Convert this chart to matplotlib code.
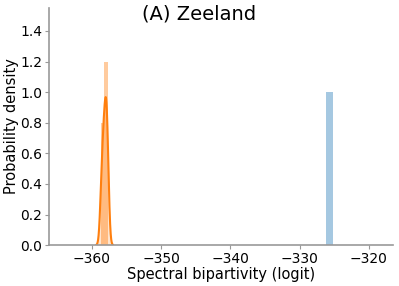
import numpy as np
import matplotlib
matplotlib.use("Agg")
import matplotlib.pyplot as plt

# observed value (blue) and null-model samples (orange), logit spectral bipartivity
observed = [-325.65]
null_samples = [-358.6, -358.3, -358.1, -357.9, -357.75]
null_bins = [-359.2, -358.7, -358.2, -357.7, -357.2]
title = "(A) Zeeland"
xticks = [-360, -350, -340, -330, -320]
yticks = [0.0, 0.2, 0.4, 0.6, 0.8, 1.0, 1.2, 1.4]

blue = "#1f77b4"
orange = "#ff7f0e"
grey = "#999999"


def kde(samples, grid):
    s = np.asarray(samples)
    bw = s.std(ddof=1) * len(s) ** (-1 / 5)
    z = (grid[:, None] - s[None, :]) / bw
    return np.exp(-0.5 * z ** 2).sum(axis=1) / (len(s) * bw * np.sqrt(2 * np.pi))


fig = plt.figure(figsize=(3.99, 2.86), dpi=100)
ax = fig.add_axes([0.123, 0.143, 0.862, 0.829])

ax.hist(observed, bins=1, range=(observed[0] - 0.5, observed[0] + 0.5),
        density=True, color=blue, alpha=0.4)
ax.hist(null_samples, bins=null_bins, density=True, color=orange, alpha=0.4)

s = np.asarray(null_samples)
grid = np.linspace(s.min() - 0.75, s.max() + 0.75, 200)
dens = kde(null_samples, grid)
ax.fill_between(grid, dens, color=orange, alpha=0.2, lw=0)
ax.plot(grid, dens, color=orange, lw=1.5)

ax.set_xlim(-366.2, -316.5)
ax.set_ylim(0, 1.55)
ax.set_xticks(xticks)
ax.set_yticks(yticks)
ax.set_xlabel("Spectral bipartivity (logit)", fontsize=10.5, labelpad=1)
ax.set_ylabel("Probability density", fontsize=10.5, labelpad=1)
ax.tick_params(labelsize=10, length=3, color=grey, pad=2)
for side in ["top", "right"]:
    ax.spines[side].set_visible(False)
for side in ["left", "bottom"]:
    ax.spines[side].set_color(grey)
    ax.spines[side].set_linewidth(1.2)

fig.text(0.5, 0.985, title, ha="center", va="top", fontsize=14)

fig.savefig("out.png", dpi=100)
